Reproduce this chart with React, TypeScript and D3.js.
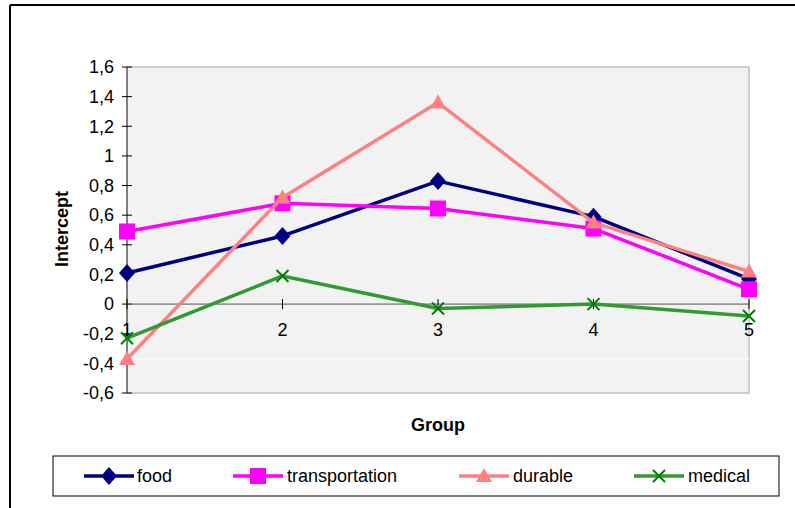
import React from 'react';
import * as d3 from 'd3';

const WIDTH = 795;
const HEIGHT = 508;

const groups = [1, 2, 3, 4, 5];
const yTicks = [-0.6, -0.4, -0.2, 0, 0.2, 0.4, 0.6, 0.8, 1, 1.2, 1.4, 1.6];

const food = [0.21, 0.46, 0.83, 0.59, 0.17];
const transportation = [0.49, 0.68, 0.645, 0.51, 0.1];
const durable = [-0.37, 0.72, 1.36, 0.55, 0.22];
const medical = [-0.23, 0.19, -0.03, 0.0, -0.08];

type Marker = 'diamond' | 'square' | 'triangle' | 'x';

interface ISeries {
    name: string;
    values: number[];
    lineColor: string;
    markerColor: string;
    marker: Marker;
}

const series: ISeries[] = [
    {name: 'food', values: food, lineColor: '#000080', markerColor: '#000080', marker: 'diamond'},
    {name: 'transportation', values: transportation, lineColor: '#ff00ff', markerColor: '#ff00ff', marker: 'square'},
    {name: 'durable', values: durable, lineColor: '#ff8080', markerColor: '#ff8080', marker: 'triangle'},
    {name: 'medical', values: medical, lineColor: '#339933', markerColor: '#008000', marker: 'x'},
];

const plot = {left: 127, right: 749, top: 67, bottom: 393};
const FONT_SIZE = 18;

const fmt = (v: number) => (Math.round(v * 10) / 10).toString().replace('.', ',');

const MarkerShape = ({type, x, y, color}: {type: Marker; x: number; y: number; color: string}) => {
    if (type === 'diamond') {
        return <path d={`M${x},${y - 9}L${x + 8},${y}L${x},${y + 9}L${x - 8},${y}Z`} fill={color}/>;
    }
    if (type === 'square') {
        return <rect x={x - 8} y={y - 8} width={16} height={16} fill={color}/>;
    }
    if (type === 'triangle') {
        return <path d={`M${x},${y - 8}L${x + 8},${y + 6}L${x - 8},${y + 6}Z`} fill={color}/>;
    }
    return (
        <path d={`M${x - 6},${y - 6}L${x + 6},${y + 6}M${x + 6},${y - 6}L${x - 6},${y + 6}`}
              stroke={color} strokeWidth={2} fill="none"/>
    );
};

export default function App() {
    const xScale = d3.scalePoint<number>().domain(groups).range([plot.left, plot.right]);
    const yScale = d3.scaleLinear().domain([-0.6, 1.6]).range([plot.bottom, plot.top]);
    const y0 = yScale(0);

    const line = d3.line<number>()
        .x((_, i) => xScale(groups[i]) as number)
        .y(d => yScale(d));

    // legend slots: sample line start and label start
    const legendItems = [
        {x: 84, textX: 137},
        {x: 233, textX: 287},
        {x: 459, textX: 513},
        {x: 634, textX: 688},
    ];
    const legendY = 476;

    return (
        <svg width={WIDTH} height={HEIGHT}
             style={{position: 'absolute', left: 0, top: 0, fontFamily: 'Arial, "Liberation Sans", sans-serif'}}>
            <rect x={0} y={0} width={WIDTH} height={HEIGHT} fill="#fff"/>
            {/* outer chart border */}
            <line x1={10} y1={5} x2={WIDTH} y2={5} stroke="#000" strokeWidth={2}/>
            <line x1={10} y1={5} x2={10} y2={HEIGHT} stroke="#000" strokeWidth={2}/>

            {/* plot area */}
            <rect x={plot.left} y={plot.top} width={plot.right - plot.left} height={plot.bottom - plot.top}
                  fill="#f2f2f2" stroke="#c0c0c0" strokeWidth={1.5}/>
            <line x1={plot.left} y1={359} x2={plot.right} y2={359} stroke="#fff" strokeWidth={1}
                  strokeDasharray="6,2"/>

            {/* y axis */}
            <line x1={plot.left} y1={plot.top} x2={plot.left} y2={plot.bottom} stroke="#333" strokeWidth={1}/>
            {yTicks.map(t => (
                <g key={t}>
                    <line x1={plot.left - 5} x2={plot.left + 5} y1={yScale(t)} y2={yScale(t)} stroke="#000"/>
                    <text x={114} y={yScale(t)} dy="0.35em" textAnchor="end" fontSize={FONT_SIZE} fill="#000">
                        {fmt(t)}
                    </text>
                </g>
            ))}

            {/* x axis at zero */}
            <line x1={plot.left} y1={y0} x2={plot.right} y2={y0} stroke="#555" strokeWidth={1}/>
            {groups.map(g => (
                <g key={g}>
                    <line x1={xScale(g)} x2={xScale(g)} y1={y0 - 5} y2={y0 + 5} stroke="#000"/>
                    <text x={xScale(g)} y={330} dy="0.35em" textAnchor="middle" fontSize={FONT_SIZE} fill="#000">
                        {g}
                    </text>
                </g>
            ))}

            {/* series */}
            {series.map(s => (
                <g key={s.name}>
                    <path d={line(s.values) || ''} fill="none" stroke={s.lineColor} strokeWidth={3.5}
                          strokeLinejoin="round"/>
                    {s.values.map((v, i) => (
                        <MarkerShape key={i} type={s.marker} x={xScale(groups[i]) as number} y={yScale(v)}
                                     color={s.markerColor}/>
                    ))}
                </g>
            ))}

            {/* axis titles */}
            <text transform="translate(68,229) rotate(-90)" textAnchor="middle" fontSize={FONT_SIZE}
                  fontWeight="bold">
                Intercept
            </text>
            <text x={438} y={425} dy="0.35em" textAnchor="middle" fontSize={FONT_SIZE} fontWeight="bold">Group</text>

            {/* legend */}
            <rect x={53} y={456} width={726} height={40} fill="#fff" stroke="#000" strokeWidth={1}/>
            {series.map((s, i) => {
                const it = legendItems[i];
                return (
                    <g key={s.name}>
                        <line x1={it.x} x2={it.x + 50} y1={legendY} y2={legendY} stroke={s.lineColor}
                              strokeWidth={3.5}/>
                        <MarkerShape type={s.marker} x={it.x + 25} y={legendY} color={s.markerColor}/>
                        <text x={it.textX} y={legendY} dy="0.35em" fontSize={FONT_SIZE} fill="#000">{s.name}</text>
                    </g>
                );
            })}
        </svg>
    );
}
